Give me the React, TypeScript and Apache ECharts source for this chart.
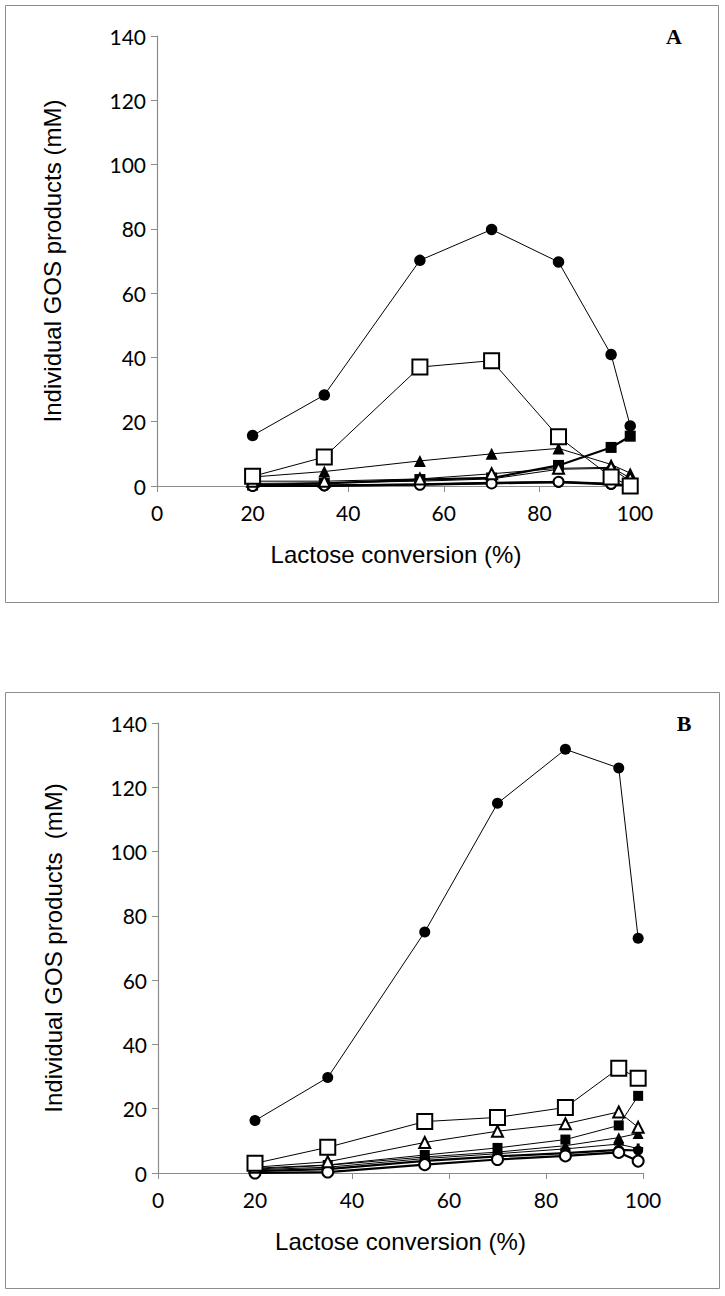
import React, { useEffect, useRef } from "react";
import * as echarts from "echarts";

const conversion = [20, 35, 55, 70, 84, 95, 99];

// Panel A (mM)
const aFilledCircle = [15.7, 28.3, 70.2, 79.8, 69.7, 40.9, 18.7];
const aOpenSquare = [3.0, 9.0, 37.0, 39.0, 15.3, 2.8, 0.0];
const aFilledTriangle = [2.8, 4.5, 7.8, 10.0, 11.7, 6.7, 4.0];
const aFilledSquare = [0.3, 0.8, 2.0, 2.5, 6.4, 12.0, 15.5];
const aOpenTriangle = [1.5, 1.5, 2.2, 3.8, 5.5, 5.8, 2.5];
const aPlus = [0.8, 1.0, 1.5, 2.2, 5.2, 5.5, 1.5];
const aSmallCircle = [0.0, 0.0, 0.5, 1.0, 1.2, 0.5, 0.2];
const aOpenCircle = [0.0, 0.2, 0.4, 0.8, 1.3, 0.7, 0.0];

// Panel B (mM)
const bFilledCircle = [16.3, 29.7, 75.0, 115.0, 131.8, 126.0, 73.0];
const bOpenSquare = [3.0, 8.0, 16.0, 17.3, 20.4, 32.6, 29.5];
const bOpenTriangle = [1.8, 3.5, 9.5, 13.0, 15.3, 19.0, 14.2];
const bFilledSquare = [1.5, 2.5, 5.6, 7.8, 10.4, 14.8, 24.0];
const bFilledTriangle = [1.2, 2.4, 5.0, 6.5, 8.5, 11.0, 12.3];
const bPlus = [1.0, 1.8, 4.5, 6.0, 7.5, 9.0, 7.6];
const bSmallCircle = [0.6, 1.2, 3.8, 5.2, 6.2, 7.2, 7.0];
const bOpenCircle = [0.0, 0.3, 2.6, 4.2, 5.3, 6.4, 3.7];

const xTicks = [0, 20, 40, 60, 80, 100];
const yTicks = [0, 20, 40, 60, 80, 100, 120, 140];

const xName = "Lactose conversion (%)";
const yNameA = "Individual GOS products (mM)";
const yNameB = "Individual GOS products  (mM)";

const PLUS = "path://M3.5,0 H6.5 V3.5 H10 V6.5 H6.5 V10 H3.5 V6.5 H0 V3.5 H3.5 Z";

type Spec = { data: number[]; symbol: string; size: number; thick?: boolean; empty?: boolean };

function makeSeries(specs: Spec[], idx: number) {
  return specs.map((s) => ({
    type: "line",
    xAxisIndex: idx,
    yAxisIndex: idx,
    data: conversion.map((x, i) => [x, s.data[i]]),
    symbol: s.symbol,
    symbolSize: s.size,
    showAllSymbol: true,
    lineStyle: { color: "#000", width: s.thick ? 2.2 : 1 },
    itemStyle: s.empty
      ? { color: "#000", borderColor: "#000", borderWidth: s.thick ? 2 : 1.4 }
      : { color: "#000", borderWidth: 0 },
    z: s.empty ? 3 : 2,
  }));
}

const axisColor = "#8c8c8c";

function xAxis(idx: number) {
  return {
    type: "value",
    gridIndex: idx,
    min: xTicks[0],
    max: xTicks[xTicks.length - 1],
    interval: 20,
    name: xName,
    nameLocation: "middle",
    nameGap: 56,
    nameTextStyle: { fontFamily: "Liberation Sans", fontSize: 24, color: "#000" },
    axisLine: { show: true, lineStyle: { color: axisColor, width: 1.2 } },
    axisTick: { show: true, length: 6, lineStyle: { color: axisColor } },
    axisLabel: { margin: 16, fontFamily: "Lato", fontSize: 21, color: "#000" },
    splitLine: { show: false },
  };
}

function yAxis(idx: number, name: string) {
  return {
    type: "value",
    gridIndex: idx,
    min: yTicks[0],
    max: yTicks[yTicks.length - 1],
    interval: 20,
    name,
    nameLocation: "middle",
    nameGap: 93,
    nameTextStyle: { fontFamily: "Liberation Sans", fontSize: 24, color: "#000" },
    axisLine: { show: true, lineStyle: { color: axisColor, width: 1.2 } },
    axisTick: { show: true, length: 6, lineStyle: { color: axisColor } },
    axisLabel: { margin: 11, fontFamily: "Lato", fontSize: 21, color: "#000" },
    splitLine: { show: false },
  };
}

export default function App() {
  const ref = useRef<HTMLDivElement>(null);
  useEffect(() => {
    if (!ref.current) return;
    const chart = echarts.init(ref.current, null, { renderer: "svg" });
    const seriesA = makeSeries(
      [
        { data: aOpenCircle, symbol: "emptyCircle", size: 10, thick: true, empty: true },
        { data: aSmallCircle, symbol: "circle", size: 11, thick: true },
        { data: aPlus, symbol: PLUS, size: 10 },
        { data: aOpenTriangle, symbol: "emptyTriangle", size: 11, empty: true },
        { data: aFilledSquare, symbol: "rect", size: 11, thick: true },
        { data: aFilledTriangle, symbol: "triangle", size: 12 },
        { data: aOpenSquare, symbol: "emptyRect", size: 15, empty: true },
        { data: aFilledCircle, symbol: "circle", size: 11.5 },
      ],
      0
    );
    const seriesB = makeSeries(
      [
        { data: bSmallCircle, symbol: "circle", size: 10, thick: true },
        { data: bOpenCircle, symbol: "emptyCircle", size: 11, thick: true, empty: true },
        { data: bPlus, symbol: PLUS, size: 10 },
        { data: bFilledTriangle, symbol: "triangle", size: 11 },
        { data: bFilledSquare, symbol: "rect", size: 10 },
        { data: bOpenTriangle, symbol: "emptyTriangle", size: 11, empty: true },
        { data: bOpenSquare, symbol: "emptyRect", size: 15, empty: true },
        { data: bFilledCircle, symbol: "circle", size: 11 },
      ],
      1
    );
    chart.setOption({
      animation: false,
      backgroundColor: "#fff",
      grid: [
        { left: 157, top: 36, width: 478, height: 450 },
        { left: 158, top: 723, width: 485, height: 450 },
      ],
      xAxis: [xAxis(0), xAxis(1)],
      yAxis: [yAxis(0, yNameA), yAxis(1, yNameB)],
      series: [...seriesA, ...seriesB],
      graphic: [
        { type: "rect", shape: { x: 5.5, y: 5.5, width: 713, height: 597 }, style: { fill: "none", stroke: axisColor, lineWidth: 1 }, silent: true },
        { type: "rect", shape: { x: 5.5, y: 692.5, width: 714, height: 596 }, style: { fill: "none", stroke: axisColor, lineWidth: 1 }, silent: true },
        { type: "text", x: 674, y: 36, style: { text: "A", font: "bold 22px 'Liberation Serif'", fill: "#000", align: "center", verticalAlign: "middle" } },
        { type: "text", x: 684, y: 723, style: { text: "B", font: "bold 22px 'Liberation Serif'", fill: "#000", align: "center", verticalAlign: "middle" } },
      ],
    });
    return () => chart.dispose();
  }, []);
  return (
    <div
      ref={ref}
      style={{ position: "absolute", left: 0, top: 0, width: 725, height: 1296, background: "#fff" }}
    />
  );
}
